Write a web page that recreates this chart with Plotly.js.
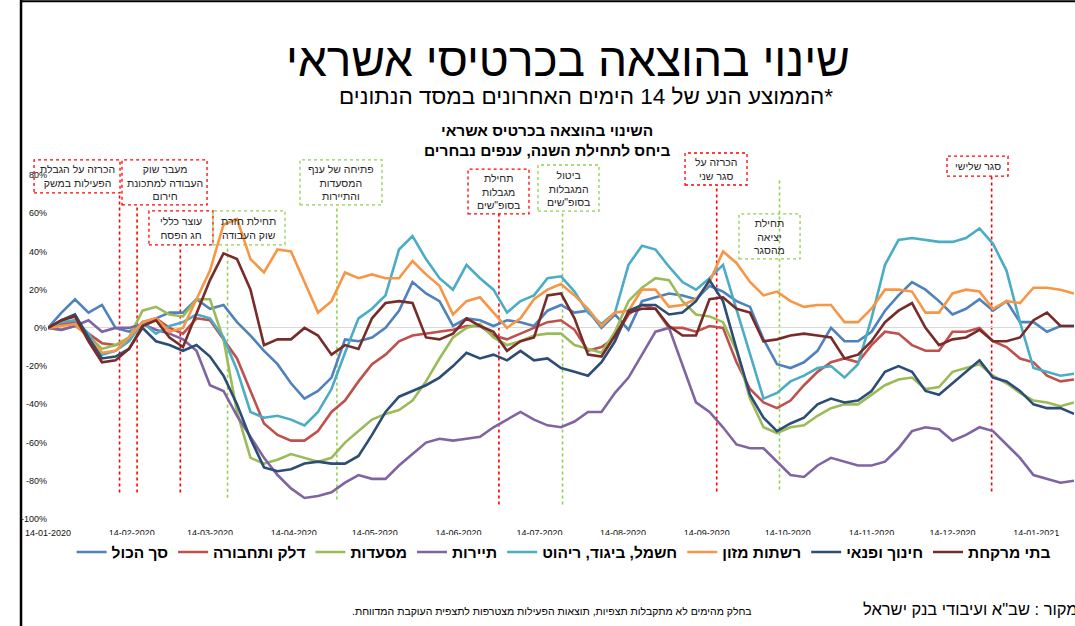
<!DOCTYPE html>
<html>
<head>
<meta charset="utf-8">
<script src="https://cdn.plot.ly/plotly-3.0.1.min.js"></script>
<style>
html,body{margin:0;padding:0;background:#fff;}
#chart{width:1075px;height:626px;}
</style>
</head>
<body>
<div id="chart"></div>
<script>
// ---- DATA ----
const dates = [
 '2020-01-14','2020-01-19','2020-01-24','2020-01-29','2020-02-03','2020-02-08','2020-02-13','2020-02-18','2020-02-23','2020-02-28',
 '2020-03-04','2020-03-09','2020-03-14','2020-03-19','2020-03-24','2020-03-29','2020-04-03','2020-04-08','2020-04-13','2020-04-18',
 '2020-04-23','2020-04-28','2020-05-03','2020-05-08','2020-05-13','2020-05-18','2020-05-23','2020-05-28','2020-06-02','2020-06-07',
 '2020-06-12','2020-06-17','2020-06-22','2020-06-27','2020-07-02','2020-07-07','2020-07-12','2020-07-17','2020-07-22','2020-07-27',
 '2020-08-01','2020-08-06','2020-08-11','2020-08-16','2020-08-21','2020-08-26','2020-08-31','2020-09-05','2020-09-10','2020-09-15',
 '2020-09-20','2020-09-25','2020-09-30','2020-10-05','2020-10-10','2020-10-15','2020-10-20','2020-10-25','2020-10-30','2020-11-04',
 '2020-11-09','2020-11-14','2020-11-19','2020-11-24','2020-11-29','2020-12-04','2020-12-09','2020-12-14','2020-12-19','2020-12-24',
 '2020-12-29','2021-01-03','2021-01-08','2021-01-13','2021-01-18','2021-01-23','2021-01-28'
];

const total = [0,8,15,8,12,0,-2,2,5,8,8,15,10,12,3,-4,-12,-19,-29,-37,-33,-26,-6,-7,-5,
 0,9,24,18,14,1,5,4,1,4,3,1,9,12,8,9,0,7,-1,14,16,18,17,15,22,
 19,14,11,-6,-19,-21,-18,-12,0,-7,-7,-2,9,17,24,20,14,7,10,15,9,14,3,3,-2,1,1];

const fuel = [0,2,3,-3,-8,-9,-6,3,5,0,-3,5,4,-6,-16,-33,-50,-56,-59,-59,-54,-44,-38,-28,-19,
 -14,-7,-4,-3,-2,-1,1,1,-4,-6,-3,0,3,4,-1,-12,-10,-5,7,12,10,0,0,-2,1,
 0,-18,-32,-39,-42,-38,-30,-23,-18,-16,-18,-9,-2,-3,-9,-12,-12,-2,-2,0,-7,-10,-16,-18,-25,-28,-27];

const restaurants = [0,-1,1,-4,-11,-9,-5,9,11,7,6,15,15,-6,-44,-68,-71,-69,-66,-68,-70,-68,-60,-54,-48,
 -45,-43,-38,-28,-16,-5,0,2,-5,-9,-7,-4,-3,-3,-9,-11,-13,-2,14,21,26,25,14,7,6,
 3,-12,-37,-52,-55,-52,-51,-46,-42,-40,-40,-35,-30,-27,-26,-32,-31,-23,-21,-19,-25,-29,-34,-38,-39,-41,-39];

const tourism = [0,-1,1,4,-2,0,0,2,-1,-3,-6,-12,-30,-33,-46,-57,-68,-77,-84,-89,-88,-86,-81,-77,-79,
 -79,-72,-66,-60,-58,-59,-58,-57,-52,-48,-44,-48,-51,-52,-49,-44,-44,-34,-26,-14,-2,0,-20,-39,-44,
 -52,-61,-63,-63,-70,-77,-78,-72,-68,-70,-72,-72,-70,-63,-54,-52,-53,-59,-56,-52,-54,-61,-68,-77,-79,-81,-80];

const electric = [0,3,4,-3,-14,-12,-7,3,-3,1,3,7,5,-5,-22,-44,-47,-46,-48,-51,-44,-32,-13,5,10,
 17,41,48,36,26,20,33,26,20,8,14,17,26,27,19,8,2,8,33,43,41,32,24,20,26,
 33,10,-14,-37,-34,-28,-25,-21,-20,-26,-19,5,33,46,47,46,45,45,47,52,44,30,3,-21,-23,-25,-24];

const food = [0,1,2,-5,-13,-12,-5,3,5,-2,0,15,30,54,57,36,29,41,40,24,8,14,29,26,28,
 26,26,35,28,22,7,14,16,8,0,5,15,20,23,17,10,1,8,9,20,20,11,12,15,24,
 40,34,24,17,19,14,11,12,12,3,3,10,20,20,19,8,8,18,20,19,10,14,13,21,21,20,18];

const education = [0,4,7,-5,-16,-15,-11,0,-7,-9,-12,-9,-15,-25,-40,-58,-73,-75,-74,-71,-70,-71,-71,-67,-56,
 -44,-36,-33,-30,-26,-20,-13,-16,-14,-17,-12,-17,-16,-21,-23,-25,-18,-7,9,12,12,7,8,14,25,
 14,-11,-35,-47,-54,-50,-47,-40,-37,-39,-38,-33,-23,-20,-23,-33,-35,-29,-23,-17,-26,-28,-33,-40,-42,-42,-45];

const pharmacy = [0,4,6,-7,-18,-17,-11,1,4,-5,-10,8,25,39,36,20,-9,-6,-6,0,-4,-14,-9,-11,5,
 13,14,13,-5,-6,-3,5,1,-2,-12,-7,-5,17,18,5,-14,-15,-4,8,10,10,1,-4,-4,15,
 16,10,8,-7,-6,-4,-3,-4,-5,-16,-14,-7,3,9,13,0,-9,-6,-5,-1,-7,-7,-5,4,8,1,1];

const seriesNames = ['סך הכול','דלק ותחבורה','מסעדות','תיירות','חשמל, ביגוד, ריהוט','רשתות מזון','חינוך ופנאי','בתי מרקחת'];
const seriesValues = [total, fuel, restaurants, tourism, electric, food, education, pharmacy];
const seriesColors = ['#4F81BD','#C0504D','#9BBB59','#8064A2','#4BACC6','#F79646','#2C4D75','#772C2A'];

const xTickVals = ['2020-01-14','2020-02-14','2020-03-14','2020-04-14','2020-05-14','2020-06-14','2020-07-14',
 '2020-08-14','2020-09-14','2020-10-14','2020-11-14','2020-12-14','2021-01-14'];
const xTickText = ['14-01-2020','14-02-2020','14-03-2020','14-04-2020','14-05-2020','14-06-2020','14-07-2020',
 '14-08-2020','14-09-2020','14-10-2020','14-11-2020','14-12-2020','14-01-2021'];
const yTickVals = [-100,-80,-60,-40,-20,0,20,40,60,80];
const yTickText = ['-100%','-80%','-60%','-40%','-20%','0%','20%','40%','60%','80%'];

const eventDates = ['2020-02-09 12:00','2020-02-16','2020-03-03','2020-03-20 12:00','2020-04-30',
 '2020-06-29','2020-07-22 14:00','2020-09-17 16:00','2020-10-10 22:00','2020-12-28 12:00'];
const eventTexts = ['הכרזה על הגבלת<br>הפעילות במשק','מעבר שוק<br>העבודה למתכונת<br>חירום','עוצר כללי<br>חג הפסח',
 'תחילת חזרת<br>שוק העבודה','פתיחה של ענף<br>המסעדות<br>והתיירות','תחילת<br>מגבלות<br>בסופ"שים',
 'ביטול<br>המגבלות<br>בסופ"שים','הכרזה על<br>סגר שני','תחילת<br>יציאה<br>מהסגר','סגר שלישי'];
const eventKinds = ['r','r','r','g','g','r','g','r','g','r'];

// ---- LAYOUT GEOMETRY (paper units) ----
const boxGeom = [
 [-0.0136,0.0702,0.948,1.044],
 [0.0721,0.155,0.913,1.044],
 [0.0984,0.1608,0.797,0.896],
 [0.1608,0.231,0.797,0.896],
 [0.2456,0.3255,0.913,1.044],
 [0.4094,0.4688,0.887,1.017],
 [0.4776,0.537,0.895,1.029],
 [0.6209,0.6813,0.971,1.064],
 [0.6735,0.733,0.756,0.887],
 [0.8762,0.9357,0.997,1.055]
];
const lineGeom = [[0.948,0.077],[0.913,0.077],[0.797,0.077],[0.797,0.062],[0.913,0.057],
 [0.887,0.042],[0.895,0.042],[0.971,0.080],[0.985,0.086],[0.997,0.080]];
const kindColor = {r:'#FF0000', g:'#92D050'};

const traces = seriesNames.map((n,i)=>({
  type:'scatter', mode:'lines', name:n, x:dates, y:seriesValues[i],
  line:{color:seriesColors[i], width:2.6}, hoverinfo:'skip'
}));

const shapes = [];
const annotations = [];
eventDates.forEach((d,i)=>{
  const c = kindColor[eventKinds[i]];
  shapes.push({type:'line', xref:'x', yref:'paper', x0:d, x1:d, y0:lineGeom[i][1], y1:lineGeom[i][0],
    line:{color:c, width:1.6, dash:'dot'}, layer:'below'});
  const b = boxGeom[i];
  shapes.push({type:'rect', xref:'paper', yref:'paper', x0:b[0], x1:b[1], y0:b[2], y1:b[3],
    line:{color:c, width:1.3, dash:'dot'}, fillcolor:'rgba(255,255,255,0)', layer:'below'});
  annotations.push({xref:'paper', yref:'paper', x:(b[0]+b[1])/2, y:(b[2]+b[3])/2, text:eventTexts[i],
    showarrow:false, xanchor:'center', yanchor:'middle', align:'center',
    font:{family:'Liberation Sans, Arial, sans-serif', size:10.5, color:'#262626'}});
});

// frame
shapes.push({type:'line', xref:'paper', yref:'paper', x0:-0.0263, x1:-0.0263, y0:-0.32, y1:1.52,
  line:{color:'#000', width:2.5}});
shapes.push({type:'line', xref:'paper', yref:'paper', x0:-0.0263, x1:1.02, y0:1.505, y1:1.505,
  line:{color:'#000', width:2}});

annotations.push({xref:'paper', yref:'paper', x:0.507, y:1.334, text:'שינוי בהוצאה בכרטיסי אשראי',
  showarrow:false, xanchor:'center', yanchor:'middle',
  font:{family:'Liberation Sans, Arial, sans-serif', size:46, color:'#000'}});
annotations.push({xref:'paper', yref:'paper', x:0.524, y:1.229, text:'\u200F*הממוצע הנע של 14 הימים האחרונים במסד הנתונים',
  showarrow:false, xanchor:'center', yanchor:'middle',
  font:{family:'Liberation Sans, Arial, sans-serif', size:22.5, color:'#000'}});
annotations.push({xref:'paper', yref:'paper', x:0.486, y:1.100, text:'השינוי בהוצאה בכרטיס אשראי<br>ביחס לתחילת השנה, ענפים נבחרים',
  showarrow:false, xanchor:'center', yanchor:'middle', align:'center',
  font:{family:'Liberation Sans, Arial, sans-serif', size:15.5, color:'#000', weight:'bold'}});
annotations.push({xref:'paper', yref:'paper', x:1.0055, y:-0.263, text:'מקור : שב"א ועיבודי בנק ישראל',
  showarrow:false, xanchor:'right', yanchor:'middle',
  font:{family:'Liberation Sans, Arial, sans-serif', size:16.5, color:'#000'}});
annotations.push({xref:'paper', yref:'paper', x:0.491, y:-0.266, text:'בחלק מהימים לא מתקבלות תצפיות, תוצאות הפעילות מצטרפות לתצפית העוקבת המדווחת.\u200F',
  showarrow:false, xanchor:'center', yanchor:'middle',
  font:{family:'Liberation Sans, Arial, sans-serif', size:10.5, color:'#000'}});

const layout = {
  width:1075, height:626,
  margin:{l:48, r:1, t:175, b:107, pad:0},
  paper_bgcolor:'#fff', plot_bgcolor:'rgba(0,0,0,0)',
  showlegend:true,
  legend:{orientation:'h', x:0.023, xanchor:'left', y:-0.097, yanchor:'middle',
    font:{family:'Liberation Sans, Arial, sans-serif', size:15.5, color:'#000', weight:'bold'},
    itemwidth:30, tracegroupgap:0},
  xaxis:{type:'date', range:['2020-01-14','2021-01-28'], tickvals:xTickVals, ticktext:xTickText,
    showgrid:false, zeroline:false, showline:false, ticks:'', tickangle:0, ticklabelstandoff:7,
    tickfont:{family:'Liberation Sans, Arial, sans-serif', size:9, color:'#111'}},
  yaxis:{range:[-100,80], tickvals:yTickVals, ticktext:yTickText, showgrid:false,
    zeroline:true, zerolinecolor:'#D9D9D9', zerolinewidth:1, showline:false, ticks:'',
    tickfont:{family:'Liberation Sans, Arial, sans-serif', size:9, color:'#111'}},
  shapes:shapes, annotations:annotations
};

Plotly.newPlot('chart', traces, layout, {staticPlot:true, displayModeBar:false});
</script>
</body>
</html>
